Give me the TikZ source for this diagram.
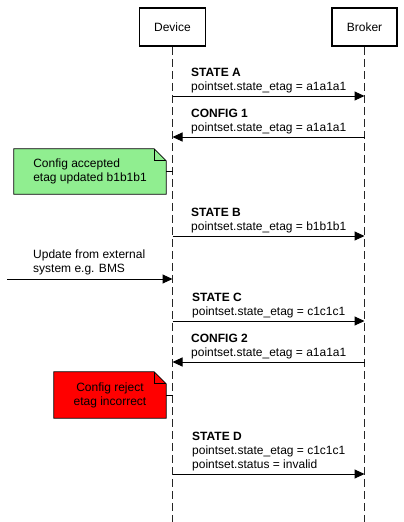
\documentclass[tikz,border=0pt]{standalone}
\usepackage{fontspec}
\setmainfont{Liberation Sans}
\usetikzlibrary{arrows.meta,backgrounds}

\definecolor{acceptgreen}{HTML}{90EE90}
\definecolor{rejectred}{HTML}{FF0000}

\tikzset{
    actor/.style={draw, fill=white, line width=1.8pt, minimum width=66pt, minimum height=38pt},
    lifeline/.style={dash pattern=on 8pt off 4pt, line width=1pt, black!85},
    msg/.style={line width=1pt, -{Triangle[length=10pt, width=9pt]}},
    msglabel/.style={inner sep=0pt, anchor=south west, align=left},
    notebox/.style={draw, line width=0.7pt},
    notetext/.style={inner sep=0pt},
    noteline/.style={line width=0.7pt}
}

\begin{document}
\begin{tikzpicture}[x=1pt, y=-1pt, font=\fontsize{12}{14}\selectfont]
        \useasboundingbox (0,0) rectangle (404,522);

        % actors and lifelines
        \node[actor] (device) at (172.5,27) {Device};
        \node[actor, minimum width=65pt] (broker) at (364.5,27) {Broker};
        \coordinate (devend) at (172.5,522);
        \coordinate (brkend) at (364.5,522);
        \draw[lifeline] (device) -- (devend);
        \draw[lifeline] (broker) -- (brkend);

        % messages
        \coordinate (devA) at (172.5,96);
        \coordinate (brkA) at (364.5,96);
        \draw[msg] (devA) -- (brkA);
        \node[msglabel] (stateA) at (191,93) {\textbf{STATE A}\\pointset.state\_etag = a1a1a1};

        \coordinate (devC1) at (172.5,137);
        \coordinate (brkC1) at (364.5,137);
        \draw[msg] (brkC1) -- (devC1);
        \node[msglabel] (config1) at (191,134) {\textbf{CONFIG 1}\\pointset.state\_etag = a1a1a1};

        \coordinate (devB) at (172.5,236);
        \coordinate (brkB) at (364.5,236);
        \draw[msg] (devB) -- (brkB);
        \node[msglabel] (stateB) at (191,233) {\textbf{STATE B}\\pointset.state\_etag = b1b1b1};

        \coordinate (ext) at (7,279);
        \coordinate (devext) at (172.5,279);
        \draw[msg] (ext) -- (devext);
        \node[msglabel] (update) at (33,275) {Update from external\\system e.g. BMS};

        \coordinate (devC) at (172.5,321);
        \coordinate (brkC) at (364.5,321);
        \draw[msg] (devC) -- (brkC);
        \node[msglabel] (stateC) at (192,318) {\textbf{STATE C}\\pointset.state\_etag = c1c1c1};

        \coordinate (devC2) at (172.5,362);
        \coordinate (brkC2) at (364.5,362);
        \draw[msg] (brkC2) -- (devC2);
        \node[msglabel] (config2) at (191,359) {\textbf{CONFIG 2}\\pointset.state\_etag = a1a1a1};

        \coordinate (devD) at (172.5,474);
        \coordinate (brkD) at (364.5,474);
        \draw[msg] (devD) -- (brkD);
        \node[msglabel] (stateD) at (192,471) {\textbf{STATE D}\\pointset.state\_etag = c1c1c1\\pointset.status = invalid};

        % notes
        \node[notetext, minimum width=152pt, minimum height=45pt, align=left] (accept) at (90,171.5) {Config accepted\\etag updated b1b1b1};
        \node[notetext, minimum width=112pt, minimum height=46pt, align=center] (reject) at (110,395) {Config reject\\etag incorrect};
        \begin{scope}[on background layer]
            \filldraw[notebox, fill=acceptgreen] (accept.north west) -- ([xshift=-12pt]accept.north east) -- ([yshift=-12pt]accept.north east) -- (accept.south east) -- (accept.south west) -- cycle;
            \draw[notebox] ([xshift=-12pt]accept.north east) -- ([xshift=-12pt, yshift=-12pt]accept.north east) -- ([yshift=-12pt]accept.north east);
            \filldraw[notebox, fill=rejectred] (reject.north west) -- ([xshift=-12pt]reject.north east) -- ([yshift=-12pt]reject.north east) -- (reject.south east) -- (reject.south west) -- cycle;
            \draw[notebox] ([xshift=-12pt]reject.north east) -- ([xshift=-12pt, yshift=-12pt]reject.north east) -- ([yshift=-12pt]reject.north east);
        \end{scope}
        \coordinate (devN1) at (172.5,171.5);
        \coordinate (devN2) at (172.5,395);
        \draw[noteline] (accept) -- (devN1);
        \draw[noteline] (reject) -- (devN2);
    \end{tikzpicture}
\end{document}
